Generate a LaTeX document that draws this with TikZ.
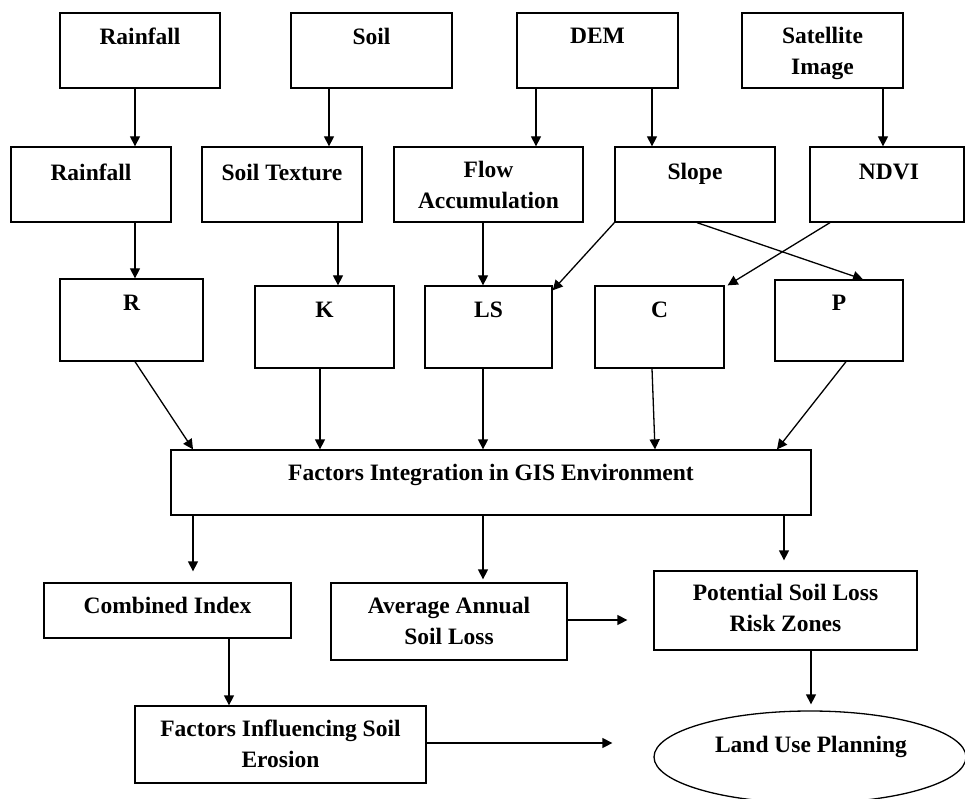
\documentclass[tikz,border=0pt]{standalone}
\usepackage{fontspec}
\setmainfont{Liberation Serif}
\usetikzlibrary{arrows.meta,fit,shapes.geometric}
\newcommand\tst{\rule{0pt}{18pt}}
\begin{document}
\begin{tikzpicture}[x=1pt,y=-1pt,
  box/.style={draw, line width=1.3pt, inner sep=0pt, rectangle},
  txt/.style={font=\fontsize{23.5}{31}\selectfont\bfseries, inner sep=0pt, anchor=north, align=center},
  arr/.style={line width=1.3pt, -{Triangle[length=10pt,width=10pt]}}]
\useasboundingbox[fill=white] (0,0) rectangle (965,799);
% boxes
\node[box, fit={(60,13)(220,88)}] (rf1) {};
\node[box, fit={(291,13)(452,88)}] (so1) {};
\node[box, fit={(517,13)(678,88)}] (dem) {};
\node[box, fit={(742,13)(903,88)}] (sat) {};
\node[box, fit={(11,147)(171,222)}] (rf2) {};
\node[box, fit={(202,147)(362,222)}] (st) {};
\node[box, fit={(394,147)(583,222)}] (fa) {};
\node[box, fit={(615,147)(775,222)}] (sl) {};
\node[box, fit={(810,147)(964,222)}] (nd) {};
\node[box, fit={(60,279)(203,361)}] (R) {};
\node[box, fit={(255,286)(394,368)}] (K) {};
\node[box, fit={(425,286)(552,368)}] (LS) {};
\node[box, fit={(595,286)(724,368)}] (C) {};
\node[box, fit={(775,280)(903,361)}] (P) {};
\node[box, fit={(171,450)(811,515)}] (FI) {};
\node[box, fit={(44,583)(291,638)}] (CI) {};
\node[box, fit={(331,583)(567,660)}] (AA) {};
\node[box, fit={(654,571)(917,650)}] (PS) {};
\node[box, fit={(135,706)(426,783)}] (FIS) {};
\node[draw, line width=1.3pt, ellipse, inner sep=0pt, minimum width=312pt, minimum height=92pt] (LU) at (810,757) {};
% texts
\node[txt] (trf1) at (140,26) {\tst Rainfall};
\node[txt] (tso1) at (371.5,26) {\tst Soil};
\node[txt] (tdem) at (597.5,25) {\tst DEM};
\node[txt] (tsat) at (822.5,25) {\tst Satellite\\Image};
\node[txt] (trf2) at (91,162) {\tst Rainfall};
\node[txt] (tst) at (282,162) {\tst Soil Texture};
\node[txt] (tfa) at (488.5,159) {\tst Flow\\Accumulation};
\node[txt] (tsl) at (695,161) {\tst Slope};
\node[txt] (tnd) at (889,161) {\tst NDVI};
\node[txt] (tR) at (131.5,292) {\tst R};
\node[txt] (tK) at (324.5,299) {\tst K};
\node[txt] (tLS) at (488.5,299) {\tst LS};
\node[txt] (tC) at (659.5,299) {\tst C};
\node[txt] (tP) at (839,292) {\tst P};
\node[txt] (tFI) at (491,462) {\tst Factors Integration in GIS Environment};
\node[txt] (tCI) at (167.5,595) {\tst Combined Index};
\node[txt] (tAA) at (449,595) {\tst Average Annual\\Soil Loss};
\node[txt] (tPS) at (785.5,582) {\tst Potential Soil Loss\\Risk Zones};
\node[txt] (tFIS) at (280.5,718) {\tst Factors Influencing Soil\\Erosion};
\node[txt] (tLU) at (811,734) {\tst Land Use Planning};
% arrows
\draw[arr] ([xshift=-5pt]rf1.south) -- ([xshift=44pt]rf2.north);
\draw[arr] ([xshift=-42.5pt]so1.south) -- ([xshift=47pt]st.north);
\draw[arr] ([xshift=-61.5pt]dem.south) -- ([xshift=47.5pt]fa.north);
\draw[arr] ([xshift=54.5pt]dem.south) -- ([xshift=-43pt]sl.north);
\draw[arr] ([xshift=60.5pt]sat.south) -- ([xshift=-4pt]nd.north);
\draw[arr] ([xshift=44pt]rf2.south) -- ([xshift=3.5pt]R.north);
\draw[arr] ([xshift=56pt]st.south) -- ([xshift=13.5pt]K.north);
\draw[arr] ([xshift=-5.5pt]fa.south) -- ([xshift=-5.5pt]LS.north);
\draw[arr] (sl.south west) -- ([yshift=-5pt]LS.north east);
\draw[arr] ([xshift=2pt]sl.south) -- ([xshift=24pt]P.north);
\draw[arr] ([xshift=-57pt]nd.south) -- ([xshift=3pt]C.north east);
\draw[arr] ([xshift=3.5pt]R.south) -- ([xshift=-298pt]FI.north);
\draw[arr] ([xshift=-4.5pt]K.south) -- ([xshift=-171pt]FI.north);
\draw[arr] ([xshift=-5.5pt]LS.south) -- ([xshift=-8pt]FI.north);
\draw[arr] ([xshift=-7.5pt]C.south) -- ([xshift=164pt]FI.north);
\draw[arr] ([xshift=7pt]P.south) -- ([xshift=286pt]FI.north);
\draw[arr] ([xshift=-298pt]FI.south) -- ([xshift=25.5pt,yshift=11pt]CI.north);
\draw[arr] ([xshift=-8pt]FI.south) -- ([xshift=34pt,yshift=3pt]AA.north);
\draw[arr] ([xshift=293pt]FI.south) -- ([xshift=-1.5pt,yshift=10pt]PS.north);
\draw[arr] ([xshift=61.5pt]CI.south) -- ([xshift=-51.5pt]FIS.north);
\draw[arr] ([yshift=1.5pt]AA.east) -- ([xshift=-26pt,yshift=-9.5pt]PS.west);
\draw[arr] ([xshift=25.5pt]PS.south) -- ([xshift=1pt,yshift=6pt]LU.north);
\draw[arr] ([yshift=1.5pt]FIS.east) -- ([xshift=-41pt,yshift=14pt]LU.west);
\end{tikzpicture}
\end{document}
